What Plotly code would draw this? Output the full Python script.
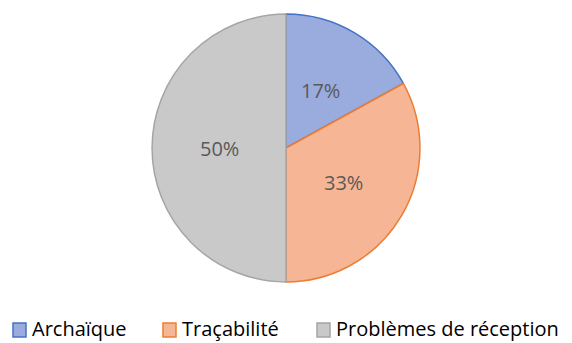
import math
import plotly.graph_objects as go

categories = ["Archaïque", "Traçabilité", "Problèmes de réception"]
shares = [17, 33, 50]
fill_colors = ["#99acdd", "#f6b595", "#c9c9c9"]
edge_colors = ["#4472c4", "#ed7d31", "#a5a5a5"]

W, H = 572, 343
dom_y = [0.178, 0.959]

fig = go.Figure(
    go.Pie(
        labels=categories,
        values=shares,
        sort=False,
        direction="clockwise",
        rotation=0,
        textinfo="none",
        marker=dict(colors=fill_colors, line=dict(color=edge_colors, width=1.5)),
        domain=dict(x=[0, 1], y=dom_y),
        hoverinfo="label+percent",
        showlegend=False,
    )
)

# Percentage labels placed halfway out along each slice's bisector
radius_px = (dom_y[1] - dom_y[0]) * H / 2
cx_px = W / 2
cy_px = H * (1 - (dom_y[0] + dom_y[1]) / 2)
total = sum(shares)
start = 0.0
annotations = []
for val in shares:
    mid = (start + val / 2) / total * 2 * math.pi
    start += val
    px = cx_px + 0.5 * radius_px * math.sin(mid)
    py = cy_px - 0.5 * radius_px * math.cos(mid)
    annotations.append(dict(
        x=px / W, y=1 - py / H, xref="paper", yref="paper",
        text=f"{val}%", showarrow=False, xanchor="center", yanchor="middle",
        font=dict(family="Open Sans", size=20, color="#595959"),
    ))

# Legend row along the bottom
legend_x = [13, 163, 317]
box_w, box_h = 13, 14
row_y = 328
shapes = []
for i, name in enumerate(categories):
    x0 = legend_x[i]
    shapes.append(dict(
        type="rect", xref="paper", yref="paper",
        x0=x0 / W, x1=(x0 + box_w) / W,
        y0=1 - (row_y + 2 + box_h / 2) / H, y1=1 - (row_y + 2 - box_h / 2) / H,
        fillcolor=fill_colors[i], line=dict(color=edge_colors[i], width=1.5),
    ))
    annotations.append(dict(
        x=(x0 + box_w + 5) / W, y=1 - row_y / H, xref="paper", yref="paper",
        text=name, showarrow=False, xanchor="left", yanchor="middle",
        borderpad=0,
        font=dict(family="Open Sans", size=20, color="#000000"),
    ))

fig.update_layout(
    width=W,
    height=H,
    margin=dict(l=0, r=0, t=0, b=0),
    paper_bgcolor="white",
    plot_bgcolor="white",
    annotations=annotations,
    shapes=shapes,
)

fig.write_html("out.html")
